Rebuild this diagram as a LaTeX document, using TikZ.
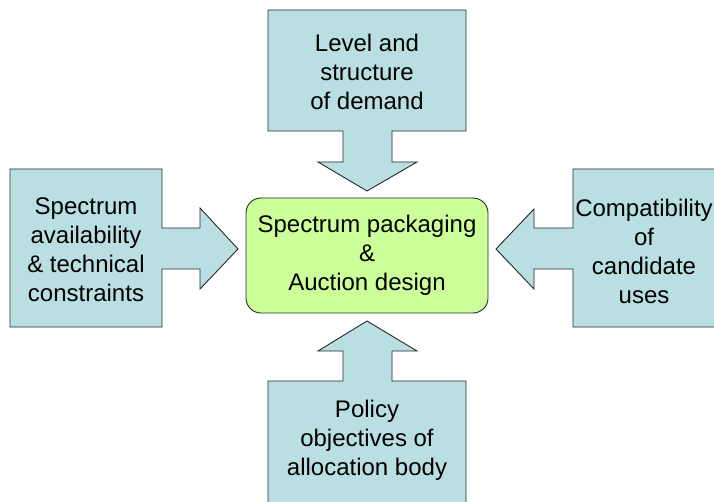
\documentclass[tikz,border=0pt]{standalone}
\usepackage{fontspec}
\setmainfont{Liberation Sans}
\definecolor{calloutblue}{RGB}{185,223,226}
\definecolor{hubgreen}{RGB}{204,255,153}
\definecolor{edgegray}{RGB}{40,40,40}
\begin{document}
\begin{tikzpicture}[x=1pt,y=-1pt,
  callout/.style={fill=calloutblue, draw=edgegray, line width=0.9pt, line join=miter},
  boxtext/.style={align=center, inner sep=0pt, font=\fontsize{24}{29}\selectfont},
  hub/.style={boxtext, fill=hubgreen, draw=edgegray, line width=0.9pt,
    rounded corners=15pt, minimum width=242pt, minimum height=115pt}]
  \clip (0,0) rectangle (714,502);

  % central box
  \node[hub] (hub) at (367,255.5) {Spectrum packaging\\\&\\Auction design};

  % top callout (arrow pointing down)
  \draw[callout] (268,10) -- (466,10) -- (466,131) -- (392,131) -- (392,162)
    -- (417,162) -- (367,191) -- (318,162) -- (343,162) -- (343,131)
    -- (268,131) -- cycle;
  \node[boxtext] (demand) at (367,72) {Level and\\structure\\of demand};

  % left callout (arrow pointing right)
  \draw[callout] (10,169) -- (162,169) -- (162,228) -- (200,228) -- (200,208)
    -- (238,249) -- (200,289) -- (200,269) -- (162,269) -- (162,327)
    -- (10,327) -- cycle;
  \node[boxtext] (supply) at (86,250) {Spectrum\\availability\\\& technical\\constraints};

  % right callout (arrow pointing left)
  \draw[callout] (720,169) -- (573,169) -- (573,228) -- (534,228) -- (534,209)
    -- (496,249) -- (534,289) -- (534,269) -- (573,269) -- (573,327)
    -- (720,327) -- cycle;
  \node[boxtext] (uses) at (644,251) {Compatibility\\of\\candidate\\uses};

  % bottom callout (arrow pointing up)
  \draw[callout] (268,510) -- (268,381) -- (343,381) -- (343,351) -- (318,351)
    -- (367,321) -- (417,351) -- (392,351) -- (392,381) -- (466,381)
    -- (466,510) -- cycle;
  \node[boxtext] (policy) at (367,440) {Policy\\objectives of\\allocation body};
\end{tikzpicture}
\end{document}
